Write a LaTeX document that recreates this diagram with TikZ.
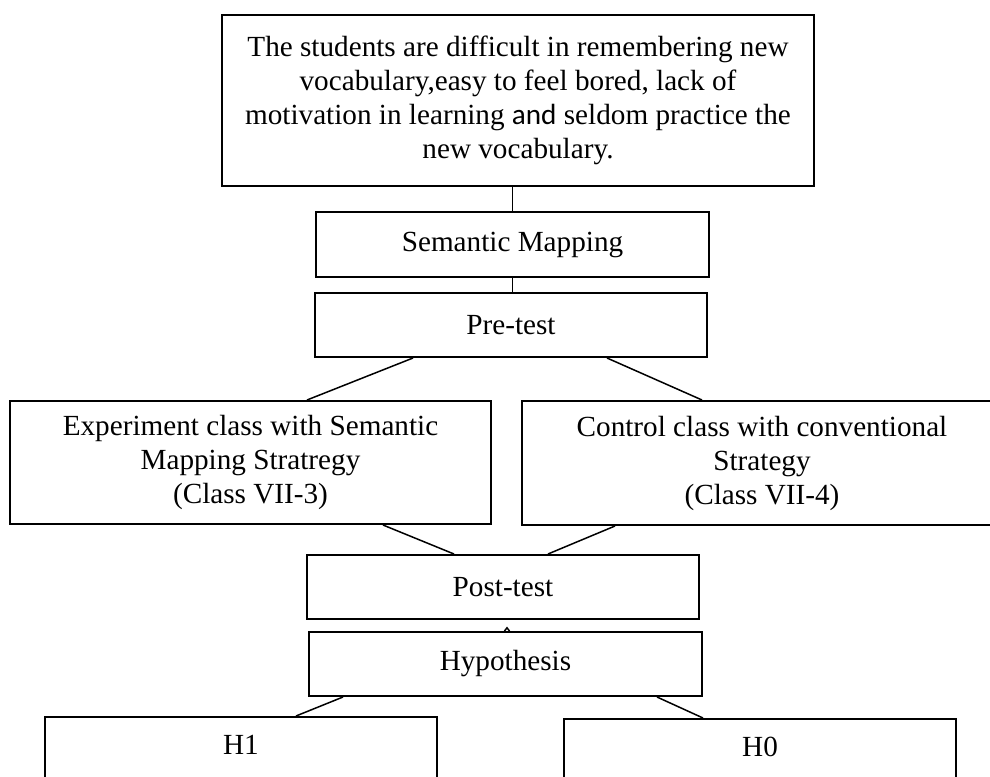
\documentclass[tikz,border=0pt]{standalone}
\usepackage{fontspec}
\setmainfont{Liberation Serif}
\newfontfamily\sansword{Carlito}
\begin{document}
\begin{tikzpicture}[x=0.5pt,y=-0.5pt,
  box/.style={draw, line width=1pt, rectangle, inner sep=0pt, align=center,
    font=\fontsize{14.6pt}{17pt}\selectfont},
  link/.style={line width=0.75pt}]
\useasboundingbox (0,0) rectangle (990,776);
\clip (0,0) rectangle (990,776);

% problem statement
\node[box, minimum width=296pt, minimum height=85.5pt] (top) at (518,100.5)
  {The students are difficult in remembering new\\
   vocabulary,easy to feel bored, lack of\\
   motivation in learning {\sansword and} seldom practice the\\
   new vocabulary.};

% treatment and pre-test
\node[box, minimum width=196.5pt, minimum height=32.5pt] (sm) at (512.5,244.5) {Semantic Mapping};
\node[box, minimum width=196pt, minimum height=32pt] (pre) at (511,325) {Pre-test};

% the two classes
\node[box, minimum width=240.5pt, minimum height=61.5pt] (exp) at (250.5,462.5)
  {Experiment class with Semantic\\ Mapping Stratregy\\ (Class VII-3)};
\node[box, minimum width=240pt, minimum height=62pt] (ctrl) at (762,463)
  {Control class with conventional\\ Strategy\\ (Class VII-4)};

% post-test and hypothesis
\node[box, minimum width=196pt, minimum height=32pt] (post) at (503,587) {Post-test};
\node[box, minimum width=196.5pt, minimum height=32pt] (hyp) at (505.5,664) {Hypothesis};

% outcomes
\node[box, anchor=north, minimum width=196pt, text height=12pt, text depth=17pt,
  inner ysep=6.5pt] (h1) at (241,716) {H1};
\node[box, anchor=north, minimum width=196pt, text height=12pt, text depth=17pt,
  inner ysep=6.5pt] (h0) at (760,718) {H0};

% connectors
\draw[link] (sm.north) -- (sm.north |- top.south);
\draw[link] (sm.south) -- (sm.south |- pre.north);
\draw[link] ([xshift=-49pt]pre.south) -- ([xshift=28.25pt]exp.north);
\draw[link] ([xshift=48pt]pre.south) -- ([xshift=-30pt]ctrl.north);
\draw[link] ([xshift=66.25pt]exp.south) -- ([xshift=-24.5pt]post.north);
\draw[link] ([xshift=-73.5pt]ctrl.south) -- ([xshift=22.5pt]post.north);
\draw[link] ([xshift=-0.5pt]hyp.north) -- ++(1.25pt,1.6pt) -- ++(1.25pt,-1.6pt);
\draw[link] ([xshift=-81.25pt]hyp.south) -- ([xshift=27.5pt]h1.north);
\draw[link] ([xshift=75.75pt]hyp.south) -- ([xshift=-28.5pt]h0.north);
\end{tikzpicture}
\end{document}
